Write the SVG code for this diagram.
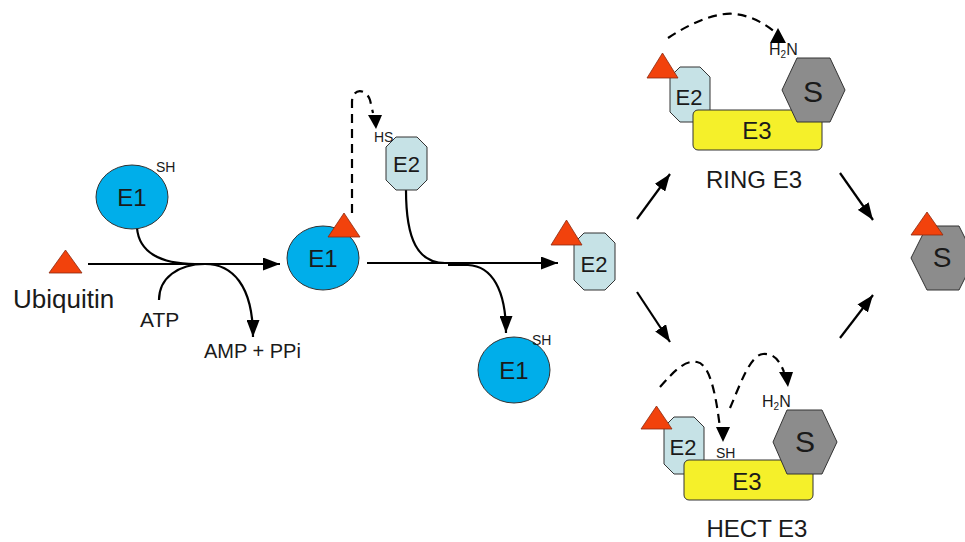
<svg xmlns="http://www.w3.org/2000/svg" width="965" height="542" viewBox="0 0 965 542">
  <style>
    .e1 { fill: #00aeea; stroke: #333; stroke-width: 1; }
    .e2 { fill: #c6e2e6; stroke: #333; stroke-width: 1; }
    .e3 { fill: #f5f02a; stroke: #333; stroke-width: 1; }
    .sub { fill: #8c8c8c; stroke: #333; stroke-width: 1; }
    .ub { fill: #f2420c; stroke: #8a2a10; stroke-width: 0.8; }
    .t { font-family: "Liberation Sans", Arial, sans-serif; fill: #1a1a1a; }
    .lbl { font-size: 24px; text-anchor: middle; }
    .big { font-size: 30px; text-anchor: middle; }
    .small { font-size: 14px; }
    .line { fill: none; stroke: #000; stroke-width: 2.2; }
    .dash { fill: none; stroke: #000; stroke-width: 2.2; stroke-dasharray: 9 6; }
    .head { fill: #000; }
  </style>
  <defs>
    <marker id="arrow" markerUnits="userSpaceOnUse" markerWidth="17" markerHeight="13" refX="17" refY="6.5" orient="auto">
      <path d="M0,0 L17,6.5 L0,13 z" fill="#000"/>
    </marker>
  </defs>

  <rect width="965" height="542" fill="#fff"/>

  <!-- reaction arrows -->
  <g id="connectors">
    <line class="line" x1="88" y1="264" x2="280" y2="264" marker-end="url(#arrow)"/>
    <path class="line" d="M137,228 C139,252 160,264 195,264"/>
    <path class="line" d="M159,300 C159,278 178,264 205,264 C232,264 253,285 253,337" marker-end="url(#arrow)"/>

    <line class="line" x1="367" y1="263" x2="558" y2="263" marker-end="url(#arrow)"/>
    <path class="line" d="M406,190 C406,240 418,263 445,263"/>
    <path class="line" d="M448,265 L468,265 C492,266 506,290 506,333" marker-end="url(#arrow)"/>

    <line class="line" x1="637" y1="219" x2="670" y2="174" marker-end="url(#arrow)"/>
    <line class="line" x1="637" y1="292" x2="670" y2="342" marker-end="url(#arrow)"/>
    <line class="line" x1="840" y1="173" x2="873" y2="220" marker-end="url(#arrow)"/>
    <line class="line" x1="840" y1="338" x2="873" y2="295" marker-end="url(#arrow)"/>

    <!-- thioester transfers -->
    <path class="dash" d="M352,213 L352,102 C352,88 366,88 370,100 L373,113"/>
    <polygon class="head" points="368,115 382,115 376,129"/>

    <path class="dash" d="M668,38 C695,20 720,12 735,14 C752,16 765,24 775,32"/>
    <polygon class="head" points="778,28 770,43 786,43"/>

    <path class="dash" d="M660,387 C675,370 685,360 697,362 C710,364 716,395 720,428"/>
    <polygon class="head" points="716,427 730,427 723,442"/>
    <path class="dash" d="M730,408 C740,385 750,355 763,354 C775,353 780,362 784,372"/>
    <polygon class="head" points="779,372 793,372 788,387"/>
  </g>

  <g id="ubiquitin">
    <polygon class="ub" points="49,273 82,273 65.5,250"/>
    <text class="t" x="13" y="308" font-size="26">Ubiquitin</text>
  </g>

  <g id="atp">
    <text class="t" x="140" y="327" font-size="21">ATP</text>
  </g>

  <g id="amp-ppi">
    <text class="t" x="204" y="358" font-size="20">AMP + PPi</text>
  </g>

  <g id="e1-free">
    <ellipse class="e1" cx="132" cy="197" rx="36" ry="32"/>
    <text class="t lbl" x="132" y="206">E1</text>
    <text class="t small" x="156" y="172">SH</text>
  </g>

  <g id="e1-ub">
    <ellipse class="e1" cx="323" cy="258" rx="36" ry="32"/>
    <text class="t lbl" x="323" y="267">E1</text>
    <polygon class="ub" points="328,237 360,237 344,213"/>
  </g>

  <g id="e2-free">
    <polygon class="e2" points="396,137 417,137 427,147 427,180 417,190 396,190 386,180 386,147"/>
    <text class="t" x="406.5" y="172" font-size="22" text-anchor="middle">E2</text>
    <text class="t small" x="374" y="142">HS</text>
  </g>

  <g id="e2-ub">
    <polygon class="e2" points="584,233 605,233 615,243 615,280 605,290 584,290 574,280 574,243"/>
    <text class="t" x="594" y="272" font-size="22" text-anchor="middle">E2</text>
    <polygon class="ub" points="551,245 582,245 566.5,220"/>
  </g>

  <g id="e1-released">
    <ellipse class="e1" cx="514" cy="370" rx="36" ry="33"/>
    <text class="t lbl" x="514" y="379">E1</text>
    <text class="t small" x="532" y="345">SH</text>
  </g>

  <g id="ring-e3">
    <polygon class="e2" points="680,67 700,67 710,77 710,112 700,122 680,122 670,112 670,77"/>
    <text class="t" x="689" y="105" font-size="22" text-anchor="middle">E2</text>
    <polygon class="ub" points="647,78 678,78 662.5,53"/>
    <rect class="e3" x="693" y="110" width="129" height="40" rx="5"/>
    <text class="t lbl" x="757" y="139">E3</text>
    <polygon class="sub" points="782,90 797,58 830,58 845,90 830,122 797,122"/>
    <text class="t big" x="813" y="102">S</text>
    <text class="t" x="769" y="55" font-size="16">H<tspan font-size="10" dy="3">2</tspan><tspan dy="-3">N</tspan></text>
    <text class="t lbl" x="754" y="188">RING E3</text>
  </g>

  <g id="hect-e3">
    <polygon class="e2" points="674,417 694,417 704,427 704,464 694,474 674,474 664,464 664,427"/>
    <text class="t" x="683" y="455" font-size="22" text-anchor="middle">E2</text>
    <polygon class="ub" points="641,429 672,429 656.5,406"/>
    <rect class="e3" x="684" y="460" width="129" height="40" rx="5"/>
    <text class="t lbl" x="747" y="490">E3</text>
    <polygon class="sub" points="773,442 787,410 822,410 837,442 822,474 787,474"/>
    <text class="t big" x="805" y="452">S</text>
    <text class="t small" x="716" y="458">SH</text>
    <text class="t" x="762" y="407" font-size="16">H<tspan font-size="10" dy="3">2</tspan><tspan dy="-3">N</tspan></text>
    <text class="t lbl" x="757" y="537">HECT E3</text>
  </g>

  <g id="substrate-ub">
    <polygon class="sub" points="911,258 927,226 959,226 975,258 959,290 927,290"/>
    <text class="t" x="942" y="267" font-size="28" text-anchor="middle">S</text>
    <polygon class="ub" points="911,235 943,235 927,212"/>
  </g>
</svg>
